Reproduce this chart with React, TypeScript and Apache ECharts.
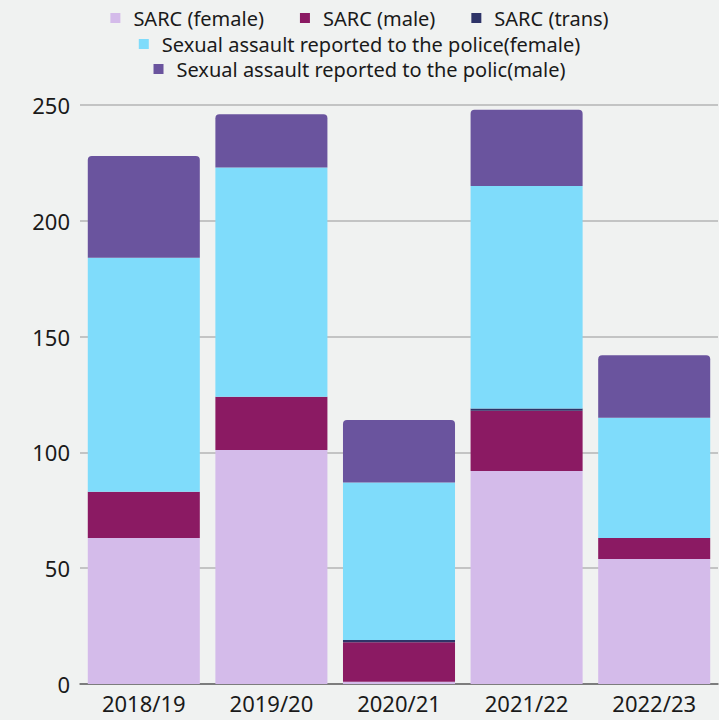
import React, { useEffect, useRef } from "react";
import * as echarts from "echarts";

const categories = ["2018/19", "2019/20", "2020/21", "2021/22", "2022/23"];
const sarcFemale = [63, 101, 1, 92, 54];
const sarcMale = [20, 23, 17, 26, 9];
const sarcTrans = [0, 0, 1, 1, 0];
const policeFemale = [101, 99, 68, 96, 52];
const policeMale = [44, 23, 27, 33, 27];
const yTicks = { min: 0, max: 250, interval: 50 };

const FONT = "'Noto Sans', Roboto, sans-serif";

export default function App() {
  const ref = useRef<HTMLDivElement>(null);
  useEffect(() => {
    if (!ref.current) return;
    const chart = echarts.init(ref.current, null, { renderer: "svg" });
    const legendText = {
      fontSize: 20,
      lineHeight: 20,
      color: "#1a1a1a",
      fontFamily: FONT,
      padding: [0, 0, 0, 8],
    };
    const mkLegend = (data: string[], top: number) => ({
      data,
      top,
      left: "center",
      padding: [0, 0, 0, 44],
      itemWidth: 10,
      itemHeight: 10,
      itemGap: 36,
      icon: "rect",
      textStyle: legendText,
    });
    const names = [
      "SARC (female)",
      "SARC (male)",
      "SARC (trans)",
      "Sexual assault reported to the police(female)",
      "Sexual assault reported to the polic(male)",
    ];
    const colors = ["#d4bbea", "#8b1a63", "#2e3468", "#7fdcfb", "#6a549e"];
    const values = [sarcFemale, sarcMale, sarcTrans, policeFemale, policeMale];
    chart.setOption({
      animation: false,
      backgroundColor: "#f0f2f1",
      legend: [
        mkLegend(names.slice(0, 3), 8),
        mkLegend([names[3]], 34),
        mkLegend([names[4]], 59),
      ],
      grid: { left: 80, right: 1, top: 105, bottom: 36, containLabel: false },
      xAxis: {
        type: "category",
        data: categories,
        axisLine: { lineStyle: { color: "#666", width: 1.5 } },
        axisTick: { show: false },
        axisLabel: { fontSize: 22, color: "#1a1a1a", fontFamily: FONT, margin: 8 },
      },
      yAxis: {
        type: "value",
        ...yTicks,
        axisLine: { show: false },
        axisTick: { show: false },
        splitLine: { lineStyle: { color: "#b5b5b5", width: 1.5 } },
        axisLabel: { fontSize: 22, color: "#1a1a1a", fontFamily: FONT, margin: 10 },
      },
      series: names.map((n, i) => ({
        name: n,
        type: "bar",
        stack: "total",
        data: values[i],
        barCategoryGap: "12.2%",
        itemStyle: {
          color: colors[i],
          borderRadius: i === 4 ? [4, 4, 0, 0] : 0,
        },
      })),
    });
    return () => chart.dispose();
  }, []);
  return (
    <div
      ref={ref}
      style={{ position: "fixed", left: 0, top: 0, width: 719, height: 720 }}
    />
  );
}
